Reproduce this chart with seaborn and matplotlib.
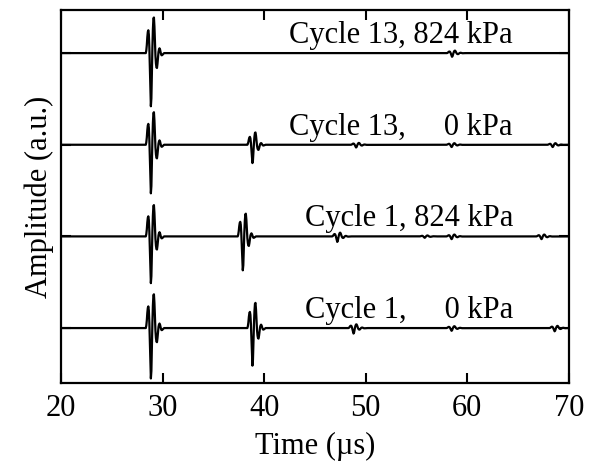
import numpy as np
import pandas as pd
import matplotlib
matplotlib.use("Agg")
import matplotlib.pyplot as plt
import seaborn as sns

WAVELET_STEP = 0.05
WAVELET = [0.00, 0.05, 0.15, 0.30, 0.40, 0.43, 0.35, 0.10, -0.25, -0.65,
           -1.00, -0.85, -0.35, 0.10, 0.45, 0.65, 0.67, 0.50, 0.20, -0.05,
           -0.20, -0.27, -0.28, -0.20, -0.08, 0.02, 0.07, 0.09, 0.07, 0.02,
           -0.02, -0.04, -0.04, -0.03, -0.02, -0.01, 0.00]

# traces, top to bottom
LABELS = ["Cycle 13, 824 kPa", "Cycle 13,     0 kPa",
          "Cycle 1, 824 kPa", "Cycle 1,     0 kPa"]
OFFSETS = [3, 2, 1, 0]

# echo onsets (us) and down-peak amplitudes (a.u.) per trace
ECHO_T = [
    [28.35, 58.00],
    [28.35, 38.33, 48.55, 57.95, 67.90],
    [28.35, 37.38, 46.70, 55.30, 57.95, 66.80],
    [28.35, 38.33, 48.30, 57.95, 68.10],
]
ECHO_A = [
    [0.58, 0.04],
    [0.53, 0.20, 0.03, 0.025, 0.025],
    [0.51, 0.37, 0.06, 0.015, 0.03, 0.03],
    [0.55, 0.41, 0.06, 0.03, 0.035],
]

T_MIN, T_MAX = 20, 70
XTICKS = [20, 30, 40, 50, 60, 70]
TEXT_X = 64.5
FS = 22


def build_trace(onsets, amps):
    t = np.round(np.arange(T_MIN, T_MAX + WAVELET_STEP / 2, WAVELET_STEP), 3)
    y = np.zeros_like(t)
    w = np.array(WAVELET)
    for t0, a in zip(onsets, amps):
        i0 = int(round((t0 - T_MIN) / WAVELET_STEP))
        y[i0:i0 + len(w)] += a * w
    return t, y


sns.set_theme(style="ticks")
plt.rcParams["font.family"] = ["Liberation Serif", "DejaVu Serif"]
plt.rcParams["text.color"] = "black"
plt.rcParams["axes.labelcolor"] = "black"

fig = plt.figure(figsize=(5.95, 4.66), dpi=100)
ax = fig.add_axes([0.1025, 0.178, 0.8535, 0.8005])

frames = []
for lab, off, ts, amps in zip(LABELS, OFFSETS, ECHO_T, ECHO_A):
    t, y = build_trace(ts, amps)
    frames.append(pd.DataFrame({"time": t, "amp": y + off, "trace": lab}))
df = pd.concat(frames, ignore_index=True)

sns.lineplot(data=df, x="time", y="amp", units="trace", estimator=None,
             sort=False, color="black", linewidth=1.6, ax=ax)

for lab, off in zip(LABELS, OFFSETS):
    ax.text(TEXT_X, off + 0.11, lab, ha="right", va="baseline",
            fontsize=FS, color="black")

ax.set_xlim(T_MIN, T_MAX)
ax.set_ylim(-0.6, 3.47)
ax.set_xticks(XTICKS)
ax.set_yticks(OFFSETS)
ax.set_yticklabels([])
ax.tick_params(direction="in", length=7, width=1.5, top=True, right=True,
               labelsize=FS, colors="black", pad=8)
for s in ax.spines.values():
    s.set_linewidth(1.6)
    s.set_color("black")

ax.set_xlabel("Time (\u00b5s)", fontsize=FS, labelpad=6, color="black")
ax.set_ylabel("Amplitude (a.u.)", fontsize=FS, labelpad=-3, color="black")

fig.savefig("out.png", dpi=100)
